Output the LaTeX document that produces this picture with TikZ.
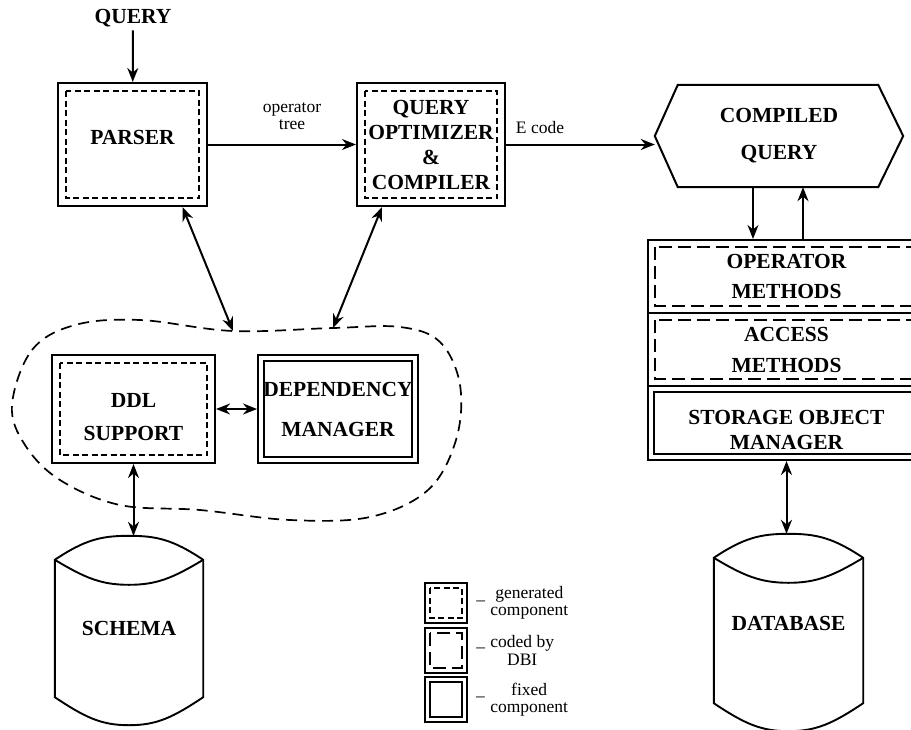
\documentclass[tikz,border=0pt]{standalone}
\usepackage{fontspec}
\setmainfont{Liberation Serif}
\usepackage{tikz}
\usetikzlibrary{arrows.meta}
\usetikzlibrary{calc}
\usetikzlibrary{positioning}

\newcommand{\bx}[1]{\bfseries\fontsize{21.5}{#1}\selectfont}
\newcommand{\lb}[1]{\fontsize{17.5}{#1}\selectfont}
\newcommand{\nobox}[1]{\raisebox{0pt}[0pt][0pt]{#1}}
\newcommand{\dropby}[1]{\rule{0pt}{#1}}

% drum outline drawn round a named (invisible) node
\newcommand{\drum}[1]{%
  \coordinate (#1-top) at ($(#1.north)+(0,-24)$);
  \coordinate (#1-low) at ($(#1.north)+(0,25)$);
  \coordinate (#1-bot) at ($(#1.south)+(0,28)$);
  \draw[line width=1.9pt] (#1.north west) .. controls +(30,-20) and +(-28,0) .. (#1-top)
      .. controls +(28,0) and +(-30,-20) .. (#1.north east) -- (#1.south east)
      .. controls +(-30,20) and +(28,0) .. (#1-bot)
      .. controls +(-28,0) and +(30,20) .. (#1.south west) -- cycle;
  \draw[line width=1.9pt] (#1.north west) .. controls +(30,18) and +(-28,0) .. (#1-low)
      .. controls +(28,0) and +(-30,18) .. (#1.north east);
}

\tikzset{
  box/.style={draw, line width=2.1pt, rectangle, align=center, inner sep=0pt},
  gen/.style={box, path picture={\draw[line width=1.7pt, dash pattern=on 6pt off 3.5pt]
      ([shift={(#1,-#1)}]path picture bounding box.north west) rectangle
      ([shift={(-#1,#1)}]path picture bounding box.south east);}},
  gen/.default=8pt,
  coded/.style={box, path picture={\draw[line width=1.7pt, dash pattern=on 13pt off 6pt]
      ([shift={(#1,-#1)}]path picture bounding box.north west) rectangle
      ([shift={(-#1,#1)}]path picture bounding box.south east);}},
  coded/.default=7pt,
  fixed/.style={box, line width=1.9pt, path picture={\draw[line width=1.7pt]
      ([shift={(#1,-#1)}]path picture bounding box.north west) rectangle
      ([shift={(-#1,#1)}]path picture bounding box.south east);}},
  fixed/.default=6pt,
  tip/.style={line width=2pt, -{Stealth[length=14pt,width=11pt]}},
  bitip/.style={line width=2pt, {Stealth[length=14pt,width=11pt]}-{Stealth[length=14pt,width=11pt]}},
  legtxt/.style={inner sep=0pt, align=center, font=\lb{17.5}}
}

\begin{document}
\begin{tikzpicture}[x=1pt, y=-1pt]
	\useasboundingbox (0,0) rectangle (911,729);

	% front end
	\node[font=\bx{24}] (query) at (133,18) {QUERY};
	\node[gen, minimum width=149pt, minimum height=123pt, font=\bx{24}] (parser) at (132.5,144.5) {\nobox{PARSER}};
	\node[gen, minimum width=148pt, minimum height=123pt, font=\bx{25}] (optim) at (431,144.5) {QUERY\\OPTIMIZER\\\&\\COMPILER};
	\node[font=\lb{17}, align=center] (optree) at (292,116) {operator\\tree};
	\node[font=\lb{18}] (ecode) at (540,128) {E code};

	% compiled query
	\node[minimum width=248pt, minimum height=102pt, inner sep=0pt, align=center, font=\bx{37}] (cq) at (779,136) {COMPILED\\QUERY};
	\draw[line width=2pt] (cq.west) -- ([xshift=23pt]cq.north west) -- ([xshift=-25pt]cq.north east)
	    -- (cq.east) -- ([xshift=-25pt]cq.south east) -- ([xshift=23pt]cq.south west) -- cycle;

	% method stack
	\node[coded, minimum width=277pt, minimum height=73pt, font=\bx{30}] (opm) at (786.5,276.5) {OPERATOR\\METHODS};
	\node[coded, minimum width=277pt, minimum height=73pt, font=\bx{31}] (acm) at (786.5,349.5) {ACCESS\\METHODS};
	\node[fixed, minimum width=277pt, minimum height=74pt, font=\bx{25}] (som) at (786.5,423) {\dropby{29pt}STORAGE OBJECT\\MANAGER};

	% ddl part
	\node[gen, minimum width=163pt, minimum height=108pt, font=\bx{33}] (ddl) at (133.5,409) {\dropby{30pt}DDL\\SUPPORT};
	\node[fixed, minimum width=160pt, minimum height=108pt, font=\bx{40}] (dep) at (338,409) {DEPENDENCY\\MANAGER};
	\draw[line width=1.7pt, dash pattern=on 11pt off 7pt] plot[smooth cycle, tension=0.6] coordinates {
	    (12,405) (32,350) (75,325) (140,320) (233,331) (333,328) (400,327)
	    (440,342) (460,385) (456,440) (428,490) (370,517) (290,520)
	    (200,510) (120,505) (60,480) (25,445)};
	\coordinate (blobA) at (233,331);
	\coordinate (blobB) at (333,328);

	% drums
	\node[minimum width=148pt, minimum height=137pt, inner sep=0pt, font=\bx{24}] (sch) at (129,628.5) {SCHEMA};
	\drum{sch}
	\node[minimum width=149pt, minimum height=145pt, inner sep=0pt, font=\bx{24}] (db) at (788.5,630.5) {\nobox{DATABASE}};
	\drum{db}

	% legend
	\node[gen=5pt, minimum width=42pt, minimum height=40pt] (leg1) at (446,603) {};
	\node[coded=5pt, minimum width=42pt, minimum height=45pt] (leg2) at (446,650.5) {};
	\node[fixed=5pt, minimum width=42pt, minimum height=45pt] (leg3) at (446,699.5) {};
	\node[legtxt, right=8pt of leg1] (dash1) {--};
	\node[legtxt, right=5pt of dash1] (gentxt) {generated\\component};
	\node[legtxt, right=8pt of leg2] (dash2) {--};
	\node[legtxt, right=5pt of dash2] (codtxt) {coded by\\DBI};
	\node[legtxt, right=8pt of leg3] (dash3) {--};
	\node[legtxt, right=5pt of dash3] (fixtxt) {fixed\\component};

	% connectors
	\draw[tip] (query) -- (parser);
	\draw[tip] (parser) -- (optim);
	\draw[tip] (optim) -- (optim -| cq.west);
	\draw[tip] ([xshift=-26pt]cq.south) -- ([xshift=-26pt]cq.south |- opm.north);
	\draw[tip] ([xshift=24pt]cq.south |- opm.north) -- ([xshift=24pt]cq.south);
	\draw[bitip] ([xshift=50pt]parser.south) -- (blobA);
	\draw[bitip] ([xshift=-49pt]optim.south) -- (blobB);
	\draw[bitip] (ddl) -- (dep);
	\draw[bitip] (ddl.south) -- (ddl.south |- sch-top);
	\draw[bitip] (som.south) -- (som.south |- db-top);
\end{tikzpicture}
\end{document}
